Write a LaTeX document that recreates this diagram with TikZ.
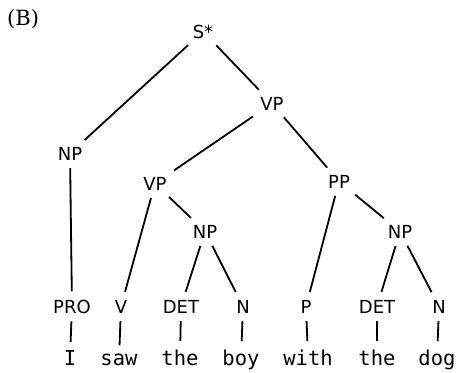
\documentclass[tikz,border=0pt]{standalone}
\usepackage{fontspec}
\setsansfont{DejaVu Sans}
\newfontfamily\wordfont{DejaVu Sans Mono}
\newfontfamily\tagfont{DejaVu Serif}

\begin{document}
\begin{tikzpicture}[
    x=1pt, y=-1pt,
    cat/.style={anchor=base,inner sep=4pt,font=\sffamily\fontsize{18}{21}\selectfont},
    word/.style={anchor=base,inner sep=4pt,font=\wordfont\fontsize{20.5}{24}\selectfont},
    branch/.style={line width=1.8pt,shorten >=4pt,shorten <=4pt}
    ]
    \useasboundingbox (0, 0) rectangle (457, 372);

    \node (tag) at (7, 25) [anchor=base west,inner sep=0pt,font=\tagfont\fontsize{21}{25}\selectfont] {(B)};

    \node (s) at (203, 38) [cat] {S*};
    \node (np1) at (70, 160) [cat] {NP};
    \node (vp1) at (272, 110) [cat] {VP};
    \node (vp2) at (155, 190) [cat] {VP};
    \node (pp) at (339, 188) [cat] {PP};
    \node (np2) at (205, 238) [cat] {NP};
    \node (np3) at (400, 238) [cat] {NP};

    \node (pro) at (72, 313) [cat] {PRO};
    \node (v) at (121, 313) [cat] {V};
    \node (det1) at (181, 313) [cat] {DET};
    \node (n1) at (243, 313) [cat] {N};
    \node (p) at (306, 313) [cat] {P};
    \node (det2) at (377, 313) [cat] {DET};
    \node (n2) at (439, 313) [cat] {N};

    \node (wi) at (70, 365) [word] {I};
    \node (wsaw) at (119, 365) [word] {saw};
    \node (wthe1) at (180, 365) [word] {the};
    \node (wboy) at (241, 365) [word] {boy};
    \node (wwith) at (308, 365) [word] {with};
    \node (wthe2) at (377, 365) [word] {the};
    \node (wdog) at (437, 365) [word] {dog};

    \draw [branch] (s) to (np1);
    \draw [branch] (s) to (vp1);
    \draw [branch] (np1) to (pro);
    \draw [branch] (vp1) to (vp2);
    \draw [branch] (vp1) to (pp);
    \draw [branch] (vp2) to (v);
    \draw [branch] (vp2) to (np2);
    \draw [branch] (np2) to (det1);
    \draw [branch] (np2) to (n1);
    \draw [branch] (pp) to (p);
    \draw [branch] (pp) to (np3);
    \draw [branch] (np3) to (det2);
    \draw [branch] (np3) to (n2);
    \draw [branch] (pro) to (wi);
    \draw [branch] (v) to (wsaw);
    \draw [branch] (det1) to (wthe1);
    \draw [branch] (n1) to (wboy);
    \draw [branch] (p) to (wwith);
    \draw [branch] (det2) to (wthe2);
    \draw [branch] (n2) to (wdog);
  \end{tikzpicture}
\end{document}
